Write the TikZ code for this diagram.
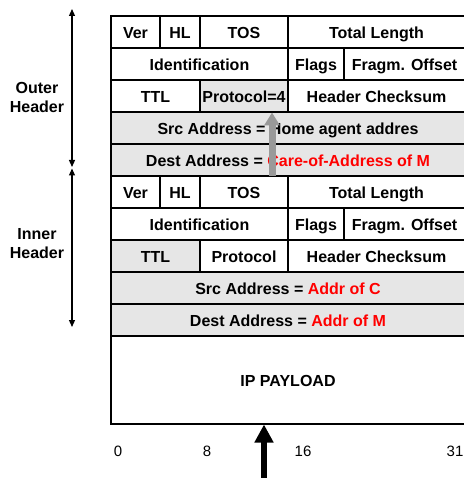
\documentclass[tikz,border=0pt]{standalone}
\usepackage{fontspec}
\setmainfont{Liberation Sans}
\usetikzlibrary{arrows.meta}
\definecolor{cellgray}{RGB}{230,230,230}
\definecolor{arrgray}{RGB}{153,153,153}
\definecolor{hired}{RGB}{255,0,0}
\tikzset{
  cell/.style={draw=black, line width=1.5pt, inner sep=0pt, text height=13pt, text depth=0pt, font=\fontsize{16}{19}\selectfont\bfseries, text=black},
  graycell/.style={cell, fill=cellgray},
  sidelabel/.style={align=center, font=\fontsize{16}{19}\selectfont\bfseries},
  bitlabel/.style={font=\fontsize{15}{18}\selectfont},
  spanarrow/.style={line width=1.2pt, {Triangle[length=7pt,width=6pt]}-{Triangle[length=7pt,width=6pt]}},
  grayarrow/.style={line width=7pt, draw=arrgray, -{Triangle[length=13pt,width=15pt]}},
  blackarrow/.style={line width=6pt, draw=black, -{Triangle[length=18pt,width=18pt]}}
}
\newcommand{\mkcell}[7]{%
  \node[#7, minimum width={(#3)-(#2)}, minimum height={(#5)-(#4)}] (#1) at ({((#2)+(#3))/2},{((#4)+(#5))/2}) {#6};}
\begin{document}
\begin{tikzpicture}[x=1pt, y=-1pt]
\useasboundingbox (0,0) rectangle (463,478);
% outer header
\mkcell{over}{111}{160}{16}{48}{Ver}{cell}
\mkcell{ohl}{160}{200}{16}{48}{HL}{cell}
\mkcell{otos}{200}{288}{16}{48}{TOS}{cell}
\mkcell{otl}{288}{465}{16}{48}{Total Length}{cell}
\mkcell{oid}{111}{288}{48}{80}{Identification}{cell}
\mkcell{oflags}{288}{344}{48}{80}{Flags}{cell}
\mkcell{ofrag}{344}{465}{48}{80}{Fragm. Offset}{cell}
\mkcell{ottl}{111}{200}{80}{112}{TTL}{cell}
\mkcell{oproto}{200}{288}{80}{112}{Protocol=4}{graycell}
\mkcell{ohc}{288}{465}{80}{112}{Header Checksum}{cell}
\mkcell{osrc}{111}{465}{112}{144}{Src Address = Home agent addres}{graycell}
\mkcell{odst}{111}{465}{144}{176}{Dest Address = \textcolor{hired}{Care-of-Address of M}}{graycell}
% inner header
\mkcell{iver}{111}{160}{176}{208}{Ver}{cell}
\mkcell{ihl}{160}{200}{176}{208}{HL}{cell}
\mkcell{itos}{200}{288}{176}{208}{TOS}{cell}
\mkcell{itl}{288}{465}{176}{208}{Total Length}{cell}
\mkcell{iid}{111}{288}{208}{240}{Identification}{cell}
\mkcell{iflags}{288}{344}{208}{240}{Flags}{cell}
\mkcell{ifrag}{344}{465}{208}{240}{Fragm. Offset}{cell}
\mkcell{ittl}{111}{200}{240}{272}{TTL}{graycell}
\mkcell{iproto}{200}{288}{240}{272}{Protocol}{cell}
\mkcell{ihc}{288}{465}{240}{272}{Header Checksum}{cell}
\mkcell{isrc}{111}{465}{272}{304}{Src Address = \textcolor{hired}{Addr of C}}{graycell}
\mkcell{idst}{111}{465}{304}{336}{Dest Address = \textcolor{hired}{Addr of M}}{graycell}
% payload
\mkcell{payload}{111}{465}{336}{424}{IP PAYLOAD}{cell}
% bit positions
\node[bitlabel] (b0) at (118,451) {0};
\node[bitlabel] (b8) at (207,451) {8};
\node[bitlabel] (b16) at (303,451) {16};
\node[bitlabel] (b31) at (455,451) {31};
% side labels
\node[sidelabel] (outerlbl) at (37,97.5) {Outer\\Header};
\node[sidelabel] (innerlbl) at (37,244) {Inner\\Header};
\coordinate (otop) at (72,9);
\coordinate (obot) at (72,167);
\coordinate (itop) at (72,168.5);
\coordinate (ibot) at (72,327);
\draw[spanarrow] (otop) -- (obot);
\draw[spanarrow] (itop) -- (ibot);
% gray arrow
\coordinate (gstart) at (272,176);
\coordinate (gend) at (272,112.5);
\draw[grayarrow] (gstart) -- (gend);
% black arrow
\coordinate (bstart) at (264,480);
\coordinate (bend) at (264,424.5);
\draw[blackarrow] (bstart) -- (bend);
\end{tikzpicture}
\end{document}
